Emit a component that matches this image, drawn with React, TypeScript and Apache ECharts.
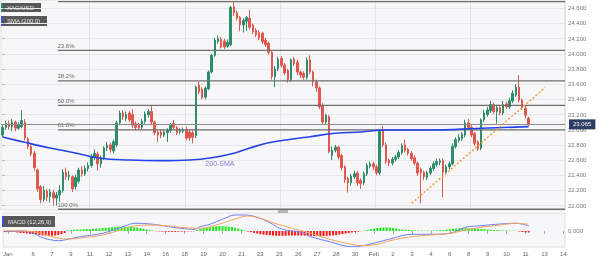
import React, { useEffect, useRef } from "react";
import * as echarts from "echarts";

// 4-hour candles, XAG/USD: [open, close, high, low]
const candles: number[][] = [
  [22.93, 23.03, 23.06, 22.90], [23.03, 23.08, 23.12, 23.00], [23.08, 23.04, 23.12, 23.00], [23.04, 23.10, 23.14, 22.98],
  [23.10, 23.02, 23.12, 22.98], [23.02, 23.06, 23.10, 23.00], [23.04, 23.12, 23.26, 23.02], [23.10, 22.89, 23.14, 22.86],
  [22.88, 22.78, 22.90, 22.75], [22.78, 22.68, 22.80, 22.65], [22.69, 22.50, 22.72, 22.46], [22.47, 22.22, 22.49, 22.18],
  [22.25, 22.08, 22.27, 22.03], [22.08, 22.20, 22.26, 22.05], [22.19, 22.11, 22.22, 22.06], [22.12, 22.18, 22.22, 22.04],
  [22.17, 22.10, 22.21, 22.00], [22.10, 22.14, 22.18, 22.00], [22.14, 22.20, 22.27, 22.05], [22.20, 22.44, 22.48, 22.17],
  [22.44, 22.38, 22.50, 22.34], [22.38, 22.40, 22.46, 22.33], [22.38, 22.22, 22.40, 22.18], [22.25, 22.37, 22.41, 22.21],
  [22.32, 22.47, 22.50, 22.29], [22.47, 22.42, 22.52, 22.38], [22.42, 22.49, 22.53, 22.39], [22.49, 22.53, 22.57, 22.45],
  [22.53, 22.64, 22.68, 22.50], [22.64, 22.69, 22.74, 22.60], [22.68, 22.55, 22.71, 22.46], [22.55, 22.63, 22.66, 22.50],
  [22.63, 22.76, 22.78, 22.60], [22.76, 22.80, 22.84, 22.72], [22.80, 22.74, 22.83, 22.70], [22.72, 22.84, 22.87, 22.69],
  [22.80, 23.09, 23.12, 22.77], [23.09, 23.22, 23.25, 23.06], [23.22, 23.17, 23.26, 23.13], [23.15, 23.20, 23.24, 23.11],
  [23.22, 23.13, 23.25, 23.10], [23.20, 23.06, 23.27, 23.02], [23.08, 23.03, 23.11, 22.99], [23.06, 23.02, 23.09, 22.99],
  [23.03, 23.11, 23.14, 23.00], [23.11, 23.21, 23.24, 23.08], [23.20, 23.24, 23.27, 23.16], [23.24, 23.10, 23.31, 23.07],
  [23.10, 22.96, 23.12, 22.93], [22.97, 22.93, 23.00, 22.84], [22.97, 22.93, 23.00, 22.89], [22.93, 22.97, 23.00, 22.90],
  [22.96, 22.99, 23.02, 22.84], [22.99, 23.06, 23.09, 22.96], [23.08, 23.03, 23.13, 23.00], [23.03, 22.96, 23.05, 22.93],
  [22.97, 22.99, 23.02, 22.94], [22.98, 23.00, 23.03, 22.95], [23.00, 22.89, 23.04, 22.86], [22.97, 22.89, 23.00, 22.85],
  [22.96, 22.90, 22.99, 22.82], [22.92, 23.56, 23.58, 22.89], [23.59, 23.50, 23.63, 23.47], [23.53, 23.42, 23.56, 23.40],
  [23.43, 23.55, 23.57, 23.40], [23.54, 23.76, 23.78, 23.52], [23.76, 23.98, 24.00, 23.74], [23.98, 24.18, 24.21, 23.96],
  [24.16, 24.20, 24.24, 24.13], [24.19, 24.09, 24.22, 24.07], [24.17, 24.09, 24.20, 24.06], [24.10, 24.15, 24.19, 24.08],
  [24.12, 24.61, 24.63, 24.10], [24.62, 24.54, 24.68, 24.50], [24.54, 24.47, 24.57, 24.44], [24.48, 24.38, 24.50, 24.30],
  [24.38, 24.44, 24.47, 24.28], [24.43, 24.48, 24.50, 24.30], [24.47, 24.35, 24.58, 24.32], [24.38, 24.29, 24.40, 24.26],
  [24.31, 24.25, 24.34, 24.22], [24.28, 24.21, 24.31, 24.18], [24.27, 24.16, 24.29, 24.13], [24.18, 24.12, 24.21, 24.09],
  [24.14, 24.02, 24.16, 23.99], [24.02, 23.70, 24.04, 23.66], [23.70, 23.80, 23.84, 23.56], [23.80, 23.93, 23.96, 23.77],
  [23.94, 23.85, 23.97, 23.82], [23.85, 23.75, 23.88, 23.72], [23.78, 23.66, 23.80, 23.62], [23.66, 23.92, 23.94, 23.63],
  [23.93, 23.87, 23.96, 23.84], [23.89, 23.76, 23.92, 23.72], [23.76, 23.72, 23.78, 23.68], [23.74, 23.69, 23.77, 23.66],
  [23.69, 23.92, 23.95, 23.66], [23.92, 23.76, 23.98, 23.73], [23.76, 23.63, 23.78, 23.57], [23.63, 23.55, 23.66, 23.50],
  [23.55, 23.30, 23.57, 23.27], [23.32, 23.10, 23.35, 23.07], [23.10, 23.19, 23.21, 23.07], [23.17, 22.71, 23.19, 22.69],
  [22.66, 22.73, 22.78, 22.60], [22.73, 22.77, 22.80, 22.70], [22.77, 22.64, 22.79, 22.61], [22.66, 22.50, 22.68, 22.46],
  [22.51, 22.34, 22.53, 22.30], [22.36, 22.30, 22.38, 22.17], [22.30, 22.39, 22.42, 22.26], [22.38, 22.42, 22.46, 22.35],
  [22.43, 22.30, 22.46, 22.26], [22.33, 22.29, 22.36, 22.22], [22.30, 22.42, 22.45, 22.27], [22.42, 22.53, 22.56, 22.39],
  [22.52, 22.55, 22.58, 22.49], [22.55, 22.51, 22.58, 22.47], [22.51, 22.43, 22.54, 22.40], [22.43, 22.98, 23.00, 22.40],
  [23.00, 22.80, 23.05, 22.77], [22.80, 22.58, 22.83, 22.55], [22.60, 22.56, 22.62, 22.52], [22.56, 22.61, 22.64, 22.53],
  [22.61, 22.64, 22.67, 22.58], [22.64, 22.70, 22.73, 22.61], [22.70, 22.79, 22.82, 22.67], [22.80, 22.73, 22.87, 22.70],
  [22.74, 22.69, 22.76, 22.66], [22.69, 22.62, 22.72, 22.59], [22.63, 22.56, 22.66, 22.53], [22.56, 22.43, 22.58, 22.39],
  [22.48, 22.43, 22.50, 22.03], [22.44, 22.38, 22.46, 22.34], [22.37, 22.43, 22.46, 22.34], [22.43, 22.49, 22.52, 22.40],
  [22.49, 22.55, 22.58, 22.46], [22.54, 22.58, 22.62, 22.51], [22.57, 22.59, 22.62, 22.53], [22.59, 22.44, 22.62, 22.11],
  [22.44, 22.51, 22.54, 22.41], [22.51, 22.55, 22.58, 22.48], [22.55, 22.78, 22.82, 22.53], [22.78, 22.87, 22.90, 22.75],
  [22.86, 22.90, 22.94, 22.83], [22.88, 22.94, 22.97, 22.85], [22.93, 23.09, 23.13, 22.90], [23.09, 23.03, 23.14, 23.00],
  [23.03, 22.93, 23.06, 22.90], [22.95, 22.82, 22.97, 22.79], [22.84, 22.75, 22.86, 22.72], [22.76, 23.13, 23.15, 22.73],
  [23.13, 23.22, 23.26, 23.10], [23.20, 23.26, 23.30, 23.17], [23.25, 23.33, 23.38, 23.22], [23.33, 23.24, 23.36, 23.21],
  [23.24, 23.29, 23.33, 23.08], [23.29, 23.22, 23.33, 23.19], [23.22, 23.33, 23.38, 23.19], [23.34, 23.30, 23.37, 23.27],
  [23.30, 23.38, 23.42, 23.27], [23.38, 23.48, 23.52, 23.35], [23.46, 23.56, 23.60, 23.43], [23.56, 23.39, 23.72, 23.36],
  [23.39, 23.29, 23.41, 23.26], [23.28, 23.19, 23.31, 23.15], [23.15, 23.065, 23.17, 23.05],
];

const lastPrice = 23.065;
const slotCount = 178; // 4H slots on the axis, including the empty area to the right

// x-axis tick labels: slot index and text
const xTickIndex = [1, 9, 15, 21, 27, 33, 39, 45, 51, 57, 63, 69, 75, 81, 87, 93, 99, 105, 111, 117, 123, 129, 135, 141, 147, 153, 159, 165, 171, 177];
const xTickText = ["Jan", "6", "7", "9", "11", "12", "13", "14", "16", "18", "19", "20", "21", "23", "25", "26", "27", "28", "30", "Feb", "2", "3", "4", "6", "8", "9", "10", "11", "13", "14"];
const weekStartIndex = [28, 58, 88, 118, 148];

const priceTicks = [22.0, 22.2, 22.4, 22.6, 22.8, 23.0, 23.2, 23.4, 23.6, 23.8, 24.0, 24.2, 24.4, 24.6];

// Fibonacci retracement
const fibText = ["0.0%", "23.6%", "38.2%", "50.0%", "61.8%", "100.0%"];
const fibPrice = [24.687, 24.044, 23.643, 23.32, 22.997, 21.952];
const fibStartSlot = 17.5;

// SMA(200) read points [slot, price]
const smaSlot = [0, 7, 15, 23, 31, 40, 50, 59, 66, 72, 78, 84, 91, 97, 105, 113, 121, 135, 151, 166];
const smaValue = [22.904, 22.834, 22.759, 22.693, 22.623, 22.601, 22.592, 22.601, 22.631, 22.68, 22.759, 22.829, 22.874, 22.908, 22.953, 22.97, 22.996, 22.996, 23.019, 23.04];

// Support trend line
const trendSlot = [129.1, 171.2];
const trendValue = [22.031, 23.554];

// MACD (12,26,9)
const macdSlot = [0, 6, 9, 12, 15, 17, 20, 24, 31, 36, 39, 41, 47, 52, 57, 60, 62, 65, 69, 73, 76, 80, 84, 88, 94, 97, 103, 110, 113, 118, 122, 129, 135, 141, 146, 151, 157, 162, 166];
const macdValue = [-0.007, 0, -0.023, -0.067, -0.09, -0.097, -0.083, -0.057, -0.023, 0.027, 0.06, 0.077, 0.067, 0.043, 0.023, 0.017, 0.043, 0.067, 0.117, 0.16, 0.16, 0.137, 0.083, 0.017, -0.013, -0.057, -0.107, -0.157, -0.15, -0.113, -0.08, -0.033, -0.033, -0.023, 0.037, 0.053, 0.07, 0.077, 0.05];
const signalSlot = [0, 9, 15, 20, 26, 31, 36, 41, 47, 52, 57, 62, 68, 73, 77, 81, 85, 91, 97, 103, 110, 113, 118, 122, 129, 135, 141, 146, 151, 157, 162, 166];
const signalValue = [0.003, -0.007, -0.057, -0.08, -0.063, -0.04, 0.003, 0.05, 0.06, 0.05, 0.033, 0.027, 0.07, 0.12, 0.15, 0.127, 0.083, 0.027, -0.023, -0.083, -0.133, -0.147, -0.133, -0.097, -0.057, -0.04, -0.023, 0.01, 0.037, 0.06, 0.077, 0.067];
const histogram = [
  -0.01, -0.01, -0.01, -0.01, -0.015, -0.02, -0.02, -0.025, -0.03, -0.03, -0.035,
  -0.04, -0.045, -0.045, -0.047, -0.047, -0.045, -0.04, -0.03, -0.02,
  0.005, 0.01, 0.012, 0.015, 0.015, 0.018, 0.02, 0.02, 0.022, 0.025, 0.025,
  0.03, 0.032, 0.035, 0.038, 0.04, 0.042, 0.043, 0.043, 0.042, 0.04, 0.038,
  0.033, 0.028, 0.022, 0.016, 0.01, 0.004,
  -0.003, -0.005, -0.006, -0.007, -0.008, -0.008, -0.008, -0.007, -0.006, -0.005, -0.004, -0.003, -0.002,
  0.01, 0.02, 0.028, 0.035, 0.04, 0.045, 0.048, 0.05, 0.05,
  0.048, 0.045, 0.04, 0.032, 0.024, 0.015, 0.006,
  -0.005, -0.012, -0.02, -0.026, -0.032, -0.036, -0.04, -0.043,
  -0.045, -0.047, -0.048, -0.048, -0.047, -0.046, -0.045, -0.045, -0.045,
  -0.046, -0.047, -0.048, -0.049, -0.05, -0.05, -0.05, -0.05, -0.049, -0.047, -0.044, -0.04, -0.035, -0.03, -0.025,
  -0.02, -0.015, -0.01, -0.006, -0.002,
  0.005, 0.012, 0.018, 0.024, 0.03, 0.034, 0.037, 0.037, 0.035, 0.03, 0.024, 0.018,
  0.014, 0.012, 0.01, 0.008, 0.006, 0.005, 0.004,
  0.003, 0.003, 0.004, 0.005, 0.006, 0.008, 0.01, 0.014, 0.018,
  0.022, 0.025, 0.027, 0.028, 0.028, 0.027, 0.026, 0.024, 0.022, 0.02, 0.018, 0.015, 0.012,
  0.01, 0.008, 0.007, 0.006, 0.005, 0.004, 0.003, 0.002,
  -0.005, -0.01, -0.013, -0.015,
];

const smaLabelPos = [68.6, 22.561];

const FONT = "Liberation Sans, Arial, sans-serif";

export default function App() {
  const ref = useRef<HTMLDivElement>(null);
  useEffect(() => {
    if (!ref.current) return;
    const chart = echarts.init(ref.current, undefined, { renderer: "svg" });
    const slots = Array.from({ length: slotCount }, (_, i) => "s" + i);
    const labelMap = new Map<number, string>();
    xTickIndex.forEach((idx, k) => labelMap.set(idx, xTickText[k]));
    const isTick = (i: number) => labelMap.has(i);
    const isWeek = (i: number) => weekStartIndex.includes(i);
    const pairs = (xs: number[], ys: number[]) => xs.map((x, k) => [x, ys[k]]);

    const legendBox = (x: number, y: number, w: number, h: number, stripe: string, text: string) => ({
      type: "group",
      children: [
        { type: "rect", shape: { x, y, width: w, height: h }, style: { fill: "#585858" } },
        { type: "rect", shape: { x, y, width: 1.5, height: h }, style: { fill: stripe } },
        { type: "text", x: x + 6, y: y + h / 2, style: { text, fill: "#e6e6e6", fontSize: 6, fontFamily: FONT, verticalAlign: "middle" } },
      ],
    });

    chart.setOption({
      animation: false,
      textStyle: { fontFamily: FONT },
      grid: [
        { left: 1, right: 33, top: 0, height: 210, show: true, backgroundColor: "#f7f7f9", borderColor: "#dedede", borderWidth: 1 },
        { left: 1, right: 33, top: 213, height: 34, show: true, backgroundColor: "#f7f7f9", borderColor: "#dedede", borderWidth: 1 },
      ],
      xAxis: [
        {
          type: "category", gridIndex: 0, data: slots, boundaryGap: true,
          axisLine: { show: false }, axisTick: { show: false }, axisLabel: { show: false },
          splitLine: { show: true, interval: (i: number) => isWeek(i), lineStyle: { color: "#e3e3e6", width: 1 } },
        },
        {
          type: "category", gridIndex: 1, data: slots, boundaryGap: true,
          axisLine: { show: false },
          axisTick: { show: true, alignWithLabel: true, interval: (i: number) => isTick(i), length: 3, lineStyle: { color: "#aaaaaa" } },
          axisLabel: {
            interval: (i: number) => isTick(i),
            formatter: (_v: string, i: number) => labelMap.get(i) ?? "",
            fontSize: 6, color: "#666666", margin: 4, fontFamily: FONT,
          },
          splitLine: { show: false },
        },
        { type: "value", gridIndex: 0, min: -0.5, max: slotCount - 0.5, show: false },
        { type: "value", gridIndex: 1, min: -0.5, max: slotCount - 0.5, show: false },
      ],
      yAxis: [
        {
          type: "value", gridIndex: 0, position: "right", min: 21.942, max: 24.709, scale: true,
          axisLine: { show: false },
          axisTick: { show: true, customValues: priceTicks, length: 2, lineStyle: { color: "#aaaaaa" } },
          axisLabel: { customValues: priceTicks, formatter: (v: number) => v.toFixed(3), fontSize: 6, color: "#777777", margin: 3, fontFamily: FONT },
          splitLine: { show: true, lineStyle: { color: "#e8e8eb", width: 1 } },
        },
        {
          type: "value", gridIndex: 1, position: "right", min: -0.16, max: 0.18,
          axisLine: { show: false },
          axisTick: { show: true, customValues: [0], length: 2, lineStyle: { color: "#aaaaaa" } },
          axisLabel: { customValues: [0], formatter: (v: number) => v.toFixed(3), fontSize: 6, color: "#777777", margin: 3, fontFamily: FONT },
          splitLine: { show: false },
        },
      ],
      series: [
        {
          type: "candlestick", xAxisIndex: 0, yAxisIndex: 0, silent: true,
          data: candles.map(([o, c, h, l]) => [o, c, l, h]),
          barWidth: 2,
          itemStyle: { color: "#2e8c6b", color0: "#e0584d", borderColor: "#2e8c6b", borderColor0: "#e0584d", borderWidth: 1 },
          markLine: {
            silent: true, symbol: ["none", "none"],
            data: [{ yAxis: lastPrice }],
            lineStyle: { color: "#8c8c8c", width: 1, type: "solid" },
            label: {
              show: true, position: "end", formatter: lastPrice.toFixed(3), distance: 4,
              backgroundColor: "#2c3e63", color: "#ffffff", fontSize: 6, padding: [2, 4, 2, 4], fontFamily: FONT,
            },
          },
        },
        ...fibPrice.map((p) => ({
          type: "line", xAxisIndex: 2, yAxisIndex: 0, silent: true, symbol: "none",
          data: [[fibStartSlot, p], [slotCount - 0.5, p]],
          lineStyle: { color: "#6e6e6e", width: 1.3 },
          z: 3,
        })),
        {
          type: "scatter", xAxisIndex: 2, yAxisIndex: 0, silent: true, symbolSize: 1,
          itemStyle: { color: "rgba(0,0,0,0)" },
          data: fibPrice.map((p, k) => ({ value: [fibStartSlot, p], label: { formatter: fibText[k] } })),
          label: { show: true, position: [0, -1], align: "left", verticalAlign: "bottom", fontSize: 6, color: "#444444", fontFamily: FONT },
          z: 4,
        },
        {
          type: "line", xAxisIndex: 2, yAxisIndex: 0, silent: true, symbol: "none", smooth: 0.4,
          data: pairs(smaSlot, smaValue),
          lineStyle: { color: "#2443e8", width: 1.6 },
          z: 5,
        },
        {
          type: "scatter", xAxisIndex: 2, yAxisIndex: 0, silent: true, symbolSize: 1,
          itemStyle: { color: "rgba(0,0,0,0)" },
          data: [{ value: smaLabelPos }],
          label: { show: true, position: "inside", formatter: "200-SMA", fontSize: 7, color: "#6a5fd0", fontFamily: FONT },
        },
        {
          type: "line", xAxisIndex: 2, yAxisIndex: 0, silent: true, symbol: "none",
          data: pairs(trendSlot, trendValue),
          lineStyle: { color: "#f39a3d", width: 1.5, type: [2, 2] },
          z: 6,
        },
        {
          type: "bar", xAxisIndex: 1, yAxisIndex: 1, silent: true, barWidth: 2,
          data: histogram.map((v) => ({ value: v, itemStyle: { color: v >= 0 ? "#1ee81e" : "#ff1a1a" } })),
        },
        {
          type: "line", xAxisIndex: 3, yAxisIndex: 1, silent: true, symbol: "none", smooth: 0.4,
          data: pairs(macdSlot, macdValue),
          lineStyle: { color: "#6b7ff2", width: 1 },
        },
        {
          type: "line", xAxisIndex: 3, yAxisIndex: 1, silent: true, symbol: "none", smooth: 0.4,
          data: pairs(signalSlot, signalValue),
          lineStyle: { color: "#f5a35b", width: 1 },
        },
      ],
      graphic: [
        legendBox(1, 3, 40, 9, "#2e9a70", "XAG/USD"),
        legendBox(1, 16, 46, 10, "#3050ff", "SMA (200,0)"),
        legendBox(2, 216, 53, 11, "#3050ff", "MACD (12,26,9)"),
        { type: "rect", shape: { x: 278, y: 210, width: 10, height: 3 }, style: { fill: "#b5b5b5" } },
      ],
    });
    return () => chart.dispose();
  }, []);
  return <div ref={ref} style={{ position: "fixed", left: 0, top: 0, width: 598, height: 261 }} />;
}
